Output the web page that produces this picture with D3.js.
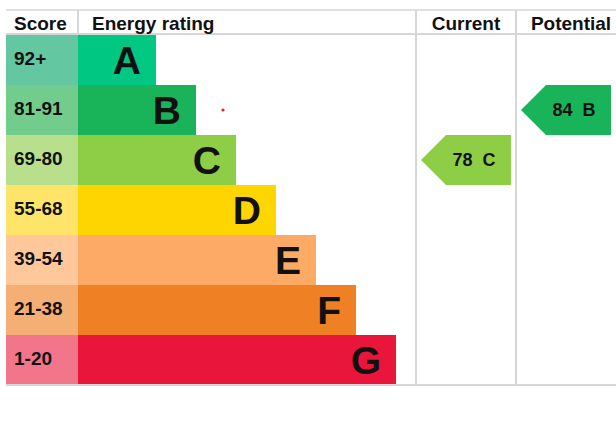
<!DOCTYPE html>
<html>
<head>
<meta charset="utf-8">
<script src="https://cdn.jsdelivr.net/npm/d3@7"></script>
<style>
  html, body { margin: 0; padding: 0; background: #fff; }
  svg { display: block; font-family: "Liberation Sans", Arial, sans-serif; font-weight: bold; }
</style>
</head>
<body>
<svg id="epc" width="616" height="424"></svg>
<script>
const ratings = ["A", "B", "C", "D", "E", "F", "G"];
const scoreRanges = ["92+", "81-91", "69-80", "55-68", "39-54", "21-38", "1-20"];
const barColors = ["#00c781", "#19b459", "#8dce46", "#ffd500", "#fcaa65", "#ef8023", "#e9153b"];
const scoreColors = ["#63c8a2", "#72cd8c", "#b8e08c", "#ffe46a", "#fec89a", "#f5af74", "#f27589"];
const headers = ["Score", "Energy rating", "Current", "Potential"];
const currentScore = 78, currentRating = "C";
const potentialScore = 84, potentialRating = "B";

const svg = d3.select("#epc");
const topY = 10, headerH = 25, bottomY = 385;
const leftX = 6, scoreW = 72, rightX = 616;
const curX = 416, potX = 516, colW = 100;
const lineColor = "#d6d6d6";

const yScale = d3.scaleBand().domain(ratings).range([topY + headerH, bottomY]);
// bar end grows by a fixed step per band
const barEnd = d3.scaleLinear().domain([0, ratings.length - 1]).range([156, 396]);

// score cells
svg.append("g")
  .selectAll("rect")
  .data(ratings)
  .join("rect")
  .attr("x", leftX)
  .attr("y", (d) => yScale(d))
  .attr("width", scoreW)
  .attr("height", yScale.bandwidth())
  .attr("fill", (d, i) => scoreColors[i]);

svg.append("g")
  .selectAll("text")
  .data(scoreRanges)
  .join("text")
  .attr("x", leftX + 8)
  .attr("y", (d, i) => yScale(ratings[i]) + 30)
  .style("font-size", "19px")
  .attr("fill", "#111")
  .text((d) => d);

// rating bars
svg.append("g")
  .selectAll("rect")
  .data(ratings)
  .join("rect")
  .attr("x", leftX + scoreW)
  .attr("y", (d) => yScale(d))
  .attr("width", (d, i) => barEnd(i) - leftX - scoreW)
  .attr("height", yScale.bandwidth())
  .attr("fill", (d, i) => barColors[i]);

svg.append("g")
  .selectAll("text")
  .data(ratings)
  .join("text")
  .attr("x", (d, i) => barEnd(i) - 15)
  .attr("y", (d) => yScale(d) + yScale.bandwidth() / 2 + 14)
  .attr("text-anchor", "end")
  .style("font-size", "39px")
  .attr("fill", "#111")
  .text((d) => d);

// grid lines
const g = svg.append("g").attr("stroke", lineColor).attr("stroke-width", 2);
g.append("line").attr("x1", leftX).attr("x2", rightX).attr("y1", topY).attr("y2", topY).attr("stroke-width", 1.5);
g.append("line").attr("x1", leftX).attr("x2", rightX).attr("y1", topY + headerH - 1).attr("y2", topY + headerH - 1);
g.append("line").attr("x1", leftX).attr("x2", rightX).attr("y1", bottomY).attr("y2", bottomY);
g.append("line").attr("x1", leftX + scoreW).attr("x2", leftX + scoreW).attr("y1", topY).attr("y2", topY + headerH - 1);
[curX, potX].forEach((x) =>
  g.append("line").attr("x1", x).attr("x2", x).attr("y1", topY).attr("y2", bottomY)
);

// headers
const headerPos = [
  { x: leftX + 8, anchor: "start" },
  { x: leftX + scoreW + 14, anchor: "start" },
  { x: curX + colW / 2, anchor: "middle" },
  { x: potX + colW / 2 + 5, anchor: "middle" },
];
svg.append("g")
  .selectAll("text")
  .data(headers)
  .join("text")
  .attr("x", (d, i) => headerPos[i].x)
  .attr("y", topY + 20)
  .attr("text-anchor", (d, i) => headerPos[i].anchor)
  .style("font-size", "19px")
  .attr("fill", "#111")
  .text((d) => d);

// arrows for current / potential
const arrows = [
  { col: curX, score: currentScore, rating: currentRating },
  { col: potX, score: potentialScore, rating: potentialRating },
];
arrows.forEach((a) => {
  const i = ratings.indexOf(a.rating);
  const y0 = yScale(a.rating), h = yScale.bandwidth();
  const x0 = a.col + 5, x1 = a.col + colW - 5;
  const pts = [[x0, y0 + h / 2], [x0 + h / 2, y0], [x1, y0], [x1, y0 + h], [x0 + h / 2, y0 + h]];
  svg.append("path")
    .attr("d", d3.line()(pts) + "Z")
    .attr("fill", barColors[i]);
  svg.append("text")
    .attr("x", x0 + 53)
    .attr("y", y0 + 31)
    .attr("text-anchor", "middle")
    .style("font-size", "18px")
    .style("white-space", "pre")
    .attr("fill", "#111")
    .text(`${a.score}  ${a.rating}`);
});

// small red marker
svg.append("circle")
  .attr("cx", 223)
  .attr("cy", 110)
  .attr("r", 1.6)
  .attr("fill", "#e52020");
</script>
</body>
</html>
